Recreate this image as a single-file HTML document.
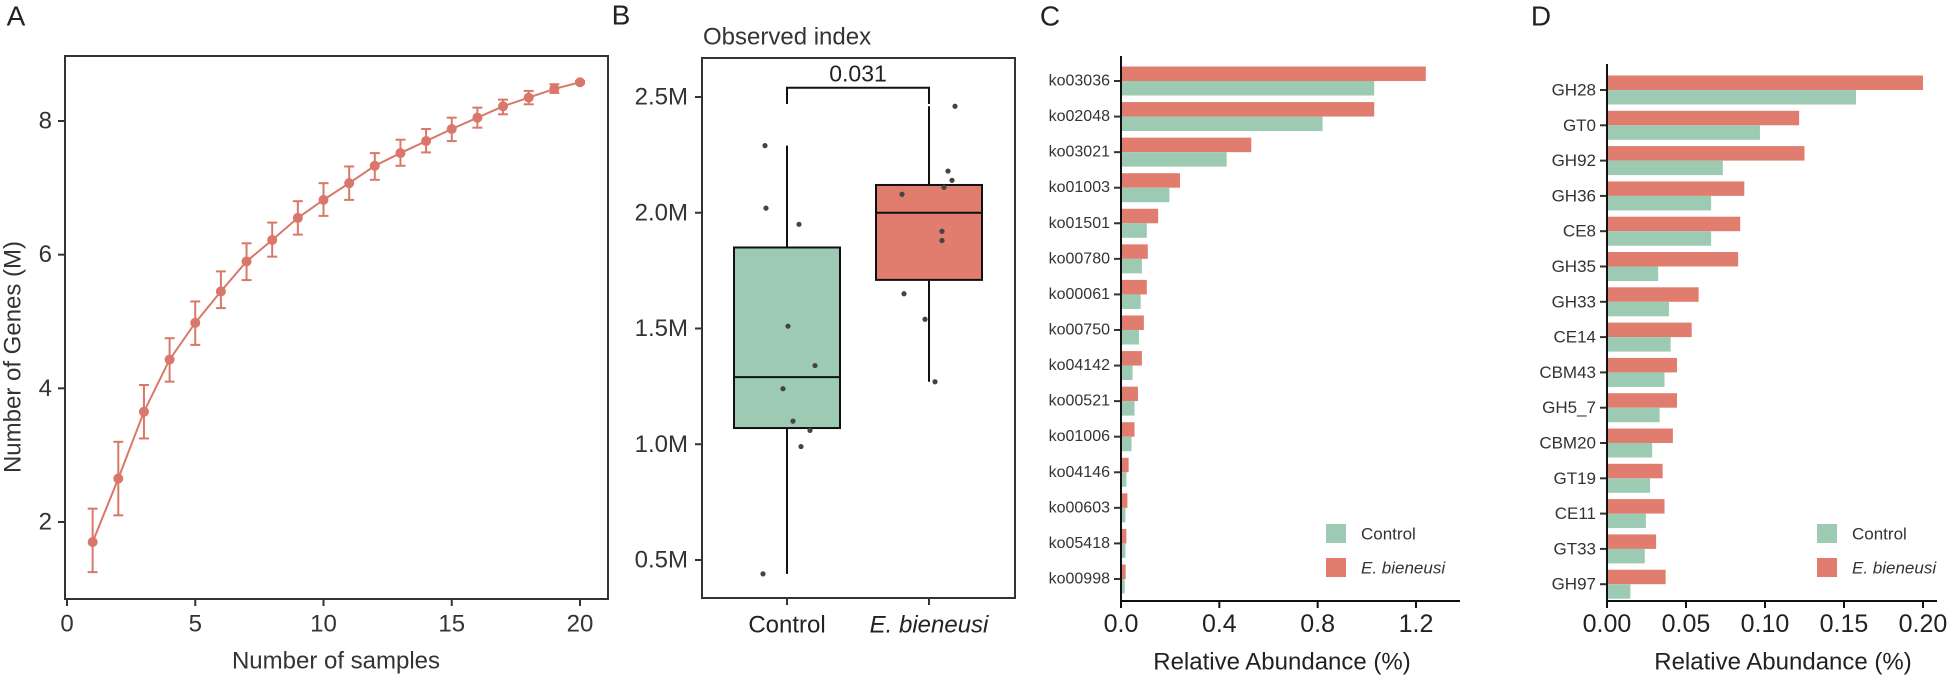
<!DOCTYPE html>
<html><head><meta charset="utf-8"><style>
html,body{margin:0;padding:0;background:#fff;}
svg{display:block;font-family:"Liberation Sans",Arial,sans-serif;}
</style></head><body>
<svg id="fig" width="1949" height="678" viewBox="0 0 1949 678" xmlns="http://www.w3.org/2000/svg"></svg>
<script>
// ---------- Panel A data ----------
const aSamples = [1,2,3,4,5,6,7,8,9,10,11,12,13,14,15,16,17,18,19,20];
const aMeans = [1.70,2.65,3.65,4.43,4.98,5.45,5.90,6.22,6.55,6.82,7.07,7.33,7.52,7.70,7.88,8.05,8.22,8.35,8.48,8.58];
const aLow = [1.25,2.10,3.25,4.10,4.65,5.20,5.62,5.97,6.30,6.58,6.82,7.12,7.33,7.53,7.70,7.90,8.10,8.25,8.42,8.56];
const aHigh = [2.20,3.20,4.05,4.75,5.30,5.75,6.17,6.48,6.80,7.07,7.32,7.52,7.72,7.88,8.05,8.20,8.32,8.45,8.55,8.60];
const aXTicks = [0,5,10,15,20];
const aYTicks = [2,4,6,8];
// ---------- Panel B data ----------
const bGroups = ["Control","E. bieneusi"];
const bQ1 = [1.07,1.71];
const bMedian = [1.29,2.00];
const bQ3 = [1.85,2.12];
const bWhiskLow = [0.44,1.27];
const bWhiskHigh = [2.29,2.46];
const bCtrlPoints = [2.29,2.02,1.95,1.51,1.34,1.24,1.10,1.06,0.99,0.44];
const bCtrlJitter = [-22,-21,12,1,28,-4,6,23,14,-24];
const bTrtPoints = [2.46,2.18,2.14,2.11,2.08,1.92,1.88,1.65,1.54,1.27];
const bTrtJitter = [26,19,23,15,-27,13,13,-25,-4,6];
const bYTicks = [0.5,1.0,1.5,2.0,2.5];
const bYTickLabels = ["0.5M","1.0M","1.5M","2.0M","2.5M"];
const bPValue = "0.031";
// ---------- Panel C data ----------
const cCats = ["ko03036","ko02048","ko03021","ko01003","ko01501","ko00780","ko00061","ko00750","ko04142","ko00521","ko01006","ko04146","ko00603","ko05418","ko00998"];
const cTreat = [1.24,1.03,0.53,0.24,0.151,0.109,0.105,0.093,0.085,0.069,0.055,0.031,0.026,0.022,0.019];
const cCtrl = [1.03,0.82,0.43,0.197,0.105,0.085,0.08,0.073,0.047,0.055,0.043,0.022,0.018,0.018,0.015];
const cXTicks = [0,0.4,0.8,1.2];
const cXTickLabels = ["0.0","0.4","0.8","1.2"];
// ---------- Panel D data ----------
const dCats = ["GH28","GT0","GH92","GH36","CE8","GH35","GH33","CE14","CBM43","GH5_7","CBM20","GT19","CE11","GT33","GH97"];
const dTreat = [0.2,0.1216,0.125,0.0869,0.0843,0.083,0.058,0.0536,0.0443,0.0443,0.0417,0.0352,0.0364,0.0311,0.0371];
const dCtrl = [0.1576,0.0968,0.0733,0.0659,0.0659,0.0324,0.0392,0.0403,0.0364,0.0333,0.0286,0.0273,0.0246,0.0239,0.0148];
const dXTicks = [0,0.05,0.10,0.15,0.20];
const dXTickLabels = ["0.00","0.05","0.10","0.15","0.20"];

const RED="#E07D6E", GREEN="#9DCAB2", LINE="#D9786A", INK="#222";
const svg=document.getElementById('fig');
const NS="http://www.w3.org/2000/svg";
function mk(tag,attrs,parent){const e=document.createElementNS(NS,tag);for(const k in attrs)e.setAttribute(k,attrs[k]);(parent||svg).appendChild(e);return e;}
function txt(s,x,y,size,anchor,parent,extra){const t=mk('text',Object.assign({x:x,y:y,'font-size':size,'text-anchor':anchor||'middle','dominant-baseline':'central',fill:INK},extra||{}),parent);t.textContent=s;return t;}
function lin(d0,d1,r0,r1){return v=>r0+(v-d0)/(d1-d0)*(r1-r0);}

// ===== Panel A =====
const gA=mk('g',{});


const ax=lin(0,20,67,580), ay=lin(2,8,522,121);
let t=txt('A',16,16,28,'middle',gA);
let r=mk('rect',{x:65,y:56,width:543,height:543,fill:'none',stroke:'#333','stroke-width':2},gA);

aXTicks.forEach(v=>{mk('line',{x1:ax(v),x2:ax(v),y1:599,y2:606,stroke:'#333','stroke-width':2},gA);
 const l=txt(String(v),ax(v),624,24,'middle',gA,{fill:'#333'});});
aYTicks.forEach(v=>{mk('line',{x1:58,x2:65,y1:ay(v),y2:ay(v),stroke:'#333','stroke-width':2},gA);
 const l=txt(String(v),52,ay(v),24,'end',gA,{fill:'#333'});});
t=txt('Number of samples',336,661,24,'middle',gA,{fill:'#333'});
t=txt('Number of Genes (M)',0,0,24,'middle',gA,{fill:'#333',transform:'translate(13,357) rotate(-90)'});
let pts=aSamples.map((s,i)=>ax(s)+','+ay(aMeans[i])).join(' ');
let pl=mk('polyline',{points:pts,fill:'none',stroke:LINE,'stroke-width':2},gA);

aSamples.forEach((s,i)=>{const x=ax(s);
 const eb=mk('g',{stroke:LINE,'stroke-width':2},gA);
 
 mk('line',{x1:x,x2:x,y1:ay(aLow[i]),y2:ay(aHigh[i])},eb);
 mk('line',{x1:x-5,x2:x+5,y1:ay(aLow[i]),y2:ay(aLow[i])},eb);
 mk('line',{x1:x-5,x2:x+5,y1:ay(aHigh[i]),y2:ay(aHigh[i])},eb);
 const c=mk('circle',{cx:x,cy:ay(aMeans[i]),r:5,fill:LINE},gA);
 });

// ===== Panel B =====
const gB=mk('g',{});


const by=lin(0.5,2.5,560,97);
const bx=[787,929];
t=txt('B',621,15,28,'middle',gB);
t=txt('Observed index',703,37,24,'start',gB,{fill:'#333'});
r=mk('rect',{x:702,y:58,width:313,height:540,fill:'none',stroke:'#333','stroke-width':2},gB);

bYTicks.forEach((v,i)=>{mk('line',{x1:695,x2:702,y1:by(v),y2:by(v),stroke:'#333','stroke-width':2},gB);
 const l=txt(bYTickLabels[i],688,by(v),24,'end',gB,{fill:'#333'});});
bGroups.forEach((g,i)=>{mk('line',{x1:bx[i],x2:bx[i],y1:598,y2:605,stroke:'#333','stroke-width':2},gB);
 const l=txt(g,bx[i],625,24,'middle',gB,{fill:'#222','font-style':i===1?'italic':'normal'});
 const wl=mk('line',{x1:bx[i],x2:bx[i],y1:by(bWhiskLow[i]),y2:by(bWhiskHigh[i]),stroke:'#111','stroke-width':2},gB);
 
 const bo=mk('rect',{x:bx[i]-53,y:by(bQ3[i]),width:106,height:by(bQ1[i])-by(bQ3[i]),fill:i?RED:GREEN,stroke:'#111','stroke-width':2},gB);
 
 const md=mk('line',{x1:bx[i]-53,x2:bx[i]+53,y1:by(bMedian[i]),y2:by(bMedian[i]),stroke:'#111','stroke-width':2},gB);
 });
bCtrlPoints.forEach((v,i)=>{const c=mk('circle',{cx:bx[0]+bCtrlJitter[i],cy:by(v),r:2.6,fill:'#444'},gB);
 });
bTrtPoints.forEach((v,i)=>{const c=mk('circle',{cx:bx[1]+bTrtJitter[i],cy:by(v),r:2.6,fill:'#444'},gB);
 });
const br=mk('polyline',{points:`${bx[0]},${by(2.47)} ${bx[0]},${by(2.54)} ${bx[1]},${by(2.54)} ${bx[1]},${by(2.47)}`,fill:'none',stroke:'#111','stroke-width':2},gB);

t=txt(bPValue,(bx[0]+bx[1])/2,by(2.54)-14,23,'middle',gB);

// ===== Bar panel helper =====
function barPanel(opts){
 const g=mk('g',{});
 
 
 const sx=v=>{const tv=opts.tickVals,tp=opts.tickPos;const n=tv.length-1;return tp[0]+(v-tv[0])/(tv[n]-tv[0])*(tp[n]-tp[0]);};
 const sy=i=>opts.y0+i*opts.step;
 let l=txt(opts.letter,opts.letterX,16,28,'middle',g);
 opts.cats.forEach((c,i)=>{const y=sy(i);
  const rb=mk('rect',{x:opts.x0,y:y-14.5,width:Math.max(0,sx(opts.treat[i])-opts.x0),height:14.5,fill:RED},g);
  
  const gb=mk('rect',{x:opts.x0,y:y,width:Math.max(0,sx(opts.ctrl[i])-opts.x0),height:14.5,fill:GREEN},g);
  
  mk('line',{x1:opts.x0-7,x2:opts.x0,y1:y,y2:y,stroke:'#333','stroke-width':2},g);
  const lb=txt(c,opts.x0-11,y,opts.catSize,'end',g,{fill:'#333'});});
 mk('line',{x1:opts.x0,x2:opts.x0,y1:opts.top,y2:601,stroke:'#111','stroke-width':2},g);
 mk('line',{x1:opts.x0,x2:opts.xEnd,y1:601,y2:601,stroke:'#111','stroke-width':2},g);
 opts.tickVals.forEach((v,i)=>{mk('line',{x1:sx(v),x2:sx(v),y1:601,y2:608,stroke:'#111','stroke-width':2},g);
  const tl=txt(opts.tickLabels[i],sx(v),624,25,'middle',g);});
 l=txt('Relative Abundance (%)',opts.titleX,662,24,'middle',g);
 const lg=mk('g',{},g);
 const s1=mk('rect',{x:opts.legX,y:524,width:20,height:19,fill:GREEN},lg);
 const s2=mk('rect',{x:opts.legX,y:558,width:20,height:19,fill:RED},lg);
 l=txt('Control',opts.legX+35,534,17,'start',lg,{fill:'#333'});
 l=txt('E. bieneusi',opts.legX+35,568,17,'start',lg,{fill:'#333','font-style':'italic'});
}
barPanel({name:'panel-c-kegg-bars',letter:'C',letterX:1050,cats:cCats,treat:cTreat,ctrl:cCtrl,x0:1121,xEnd:1460,top:56,y0:81,step:35.57,
 tickVals:cXTicks,tickPos:[1121,1219,1318,1416],tickLabels:cXTickLabels,catSize:16,titleX:1282,legX:1326});
barPanel({name:'panel-d-cazy-bars',letter:'D',letterX:1541,cats:dCats,treat:dTreat,ctrl:dCtrl,x0:1607,xEnd:1937,top:64,y0:90,step:35.3,
 tickVals:dXTicks,tickPos:[1607,1686,1765,1844,1923],tickLabels:dXTickLabels,catSize:17,titleX:1783,legX:1817});
</script>
</body></html>
